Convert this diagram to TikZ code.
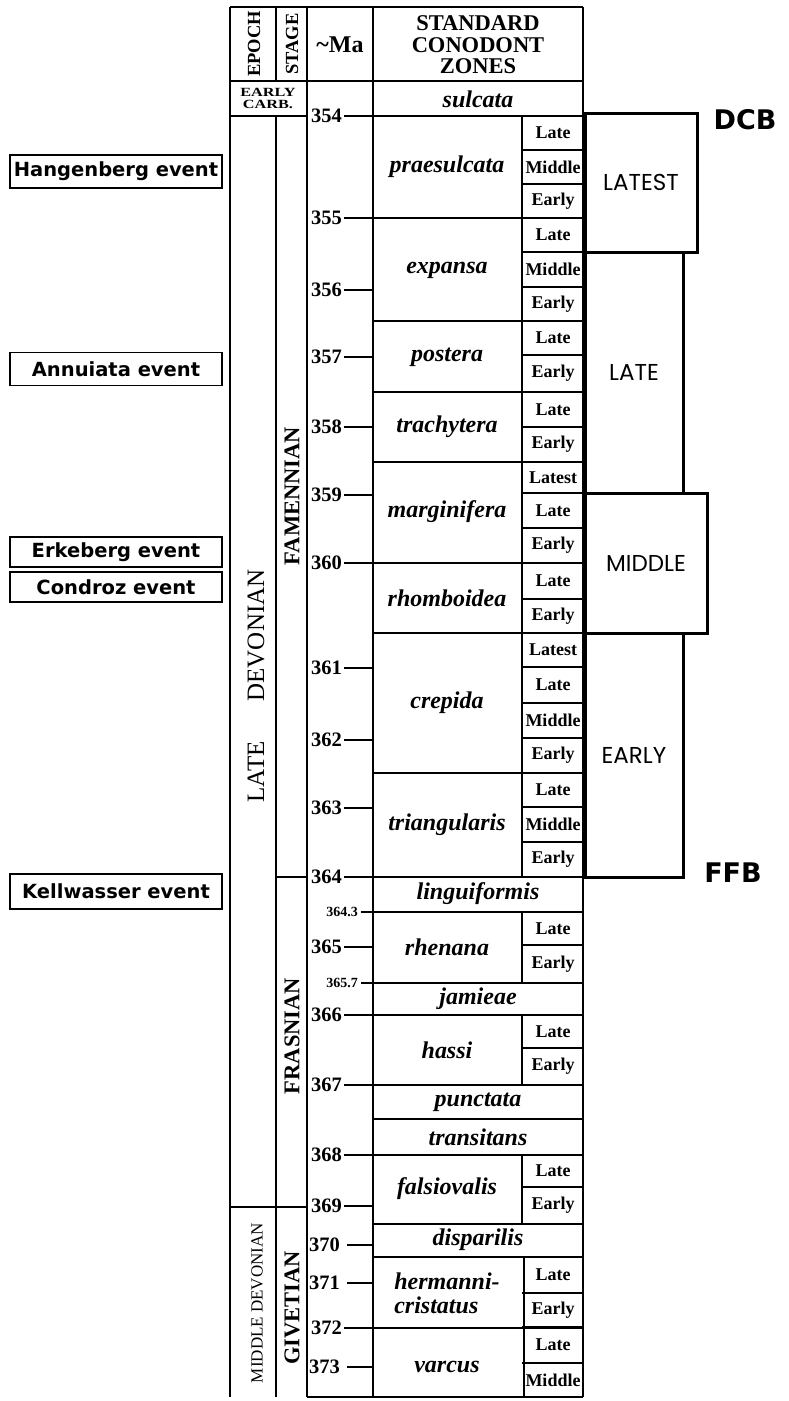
\documentclass[tikz,border=0pt]{standalone}
\usepackage{fontspec}
\setmainfont{Liberation Serif}
\newfontfamily\evfont{DejaVu Sans}
\newfontfamily\agefont{Poppins}
\begin{document}
\begin{tikzpicture}[x=1pt,y=-1pt,
  tl/.style={line width=1.7pt},
  bl/.style={line width=2.5pt},
  tk/.style={line width=1.9pt},
  malab/.style={anchor=east,inner sep=0pt,font=\fontsize{20.5}{20.5}\selectfont\bfseries},
  masmall/.style={anchor=east,inner sep=0pt,font=\fontsize{14}{14}\selectfont\bfseries},
  zone/.style={inner sep=0pt,font=\fontsize{24}{24}\selectfont\bfseries\itshape},
  sub/.style={inner sep=0pt,font=\fontsize{18}{18}\selectfont\bfseries},
  rot/.style={rotate=90,inner sep=0pt},
  evbox/.style={draw,line width=1.4pt,minimum width=212pt,inner sep=0pt,font=\evfont\bfseries\fontsize{19.5}{19.5}\selectfont},
  agebox/.style={draw,line width=3pt,inner sep=0pt,font=\agefont\fontsize{23}{23}\selectfont},
  bound/.style={inner sep=0pt,font=\evfont\bfseries\fontsize{27}{27}\selectfont}
]
\useasboundingbox[fill=white] (0,0) rectangle (788,1401);

% ---- header ----
\draw[tl] (230,7) -- (583,7);
\draw[tl] (230,81) -- (583,81);
\draw[tl] (276,7) -- (276,81);
\draw[tl] (230,116) -- (307,116);
\node[rot,font=\fontsize{18.5}{18.5}\selectfont\bfseries] (hepoch) at (254,44) {EPOCH};
\node[rot,font=\fontsize{18.5}{18.5}\selectfont\bfseries] (hstage) at (292,44) {STAGE};
\node[inner sep=0pt,font=\fontsize{24}{24}\selectfont\bfseries] (hma) at (340,45) {\textasciitilde Ma};
\node[inner sep=0pt,align=center,font=\fontsize{22.5}{21.5}\selectfont\bfseries] (hzones) at (478,45) {STANDARD\\CONODONT\\ZONES};
\node[inner sep=0pt,align=center,font=\fontsize{12.5}{12}\selectfont\bfseries] (ecarb) at (268,98) {\scalebox{1.3}[1]{EARLY}\\\scalebox{1.3}[1]{CARB.}};
\node[zone] (sulcata) at (478,99) {sulcata};

% ---- main verticals ----
\draw[tl] (230,7) -- (230,1397);
\draw[tl] (276,116) -- (276,1397);
\draw[tl] (307,7) -- (307,1397);
\draw[tl] (373,7) -- (373,1397);
\draw[tl] (583,7) -- (583,1397);
\draw[tl] (307,1397) -- (583,1397);

% stage / epoch boundaries
\draw[tl] (276,877) -- (307,877);
\draw[tl] (230,1207) -- (307,1207);

% subzone verticals
\draw[tl] (522,116) -- (522,877);
\draw[tl] (522,912) -- (522,983);
\draw[tl] (522,1015) -- (522,1085);
\draw[tl] (522,1155) -- (522,1224);
\draw[tl] (524,1257) -- (524,1397);

% ---- subzones ----
\foreach \t/\ya/\yb [count=\i] in {
  Late/116/150, Middle/150/184, Early/184/218,
  Late/218/252, Middle/252/287, Early/287/321,
  Late/321/355, Early/355/392,
  Late/392/427, Early/427/462,
  Latest/462/493, Late/493/528, Early/528/563,
  Late/563/599, Early/599/633,
  Latest/633/667, Late/667/703, Middle/703/738, Early/738/773,
  Late/773/807, Middle/807/842, Early/842/877,
  Late/912/945, Early/945/983,
  Late/1015/1048, Early/1048/1085,
  Late/1155/1187, Early/1187/1224,
  Late/1257/1293, Early/1293/1327,
  Late/1327/1363, Middle/1363/1397}{
  \draw[tl] (522,\yb) -- (583,\yb);
  \node[sub] (sz\i) at (553,{(\ya+\yb)/2}) {\t};
}

% ---- zone names ----
\foreach \n/\y [count=\i] in {praesulcata/167, expansa/270, postera/357, trachytera/427,
  marginifera/512, rhomboidea/598, crepida/703, triangularis/825,
  rhenana/947, hassi/1050, falsiovalis/1189}{
  \node[zone] (zn\i) at (447,\y) {\n};
}
\foreach \n/\y [count=\i] in {linguiformis/894, jamieae/999, punctata/1102, transitans/1137, disparilis/1240}{
  \node[zone] (zf\i) at (478,\y) {\n};
}
\node[zone,align=left] (hermanni) at (447,1293) {hermanni-\\cristatus};
\node[zone] (varcus) at (447,1367) {varcus};

% ---- zone boundaries without Ma tick ----
\foreach \y in {321,392,462,633,773,1119,1224,1257}{
  \draw[bl] (373,\y) -- (583,\y);
}

% ---- Ma labels and ticks ----
\foreach \m/\y in {354/116, 355/218, 360/563, 364/877, 366/1015, 367/1085, 368/1155, 372/1328}{
  \node[malab] (ma\m) at (342,\y) {\m};
  \draw[bl] (ma\m.east) ++(2,0) -- (583,\y);
}
\foreach \m/\y in {356/290, 357/357, 358/427, 359/495, 361/668, 362/740, 363/808, 365/947, 369/1206}{
  \node[malab] (ma\m) at (342,\y) {\m};
  \draw[tk] (ma\m.east) ++(2,0) -- (373,\y);
}
\foreach \m/\y in {370/1245, 371/1283, 373/1367}{
  \node[malab] (ma\m) at (340,\y) {\m};
  \draw[tk] (ma\m.east) ++(7,0) -- (373,\y);
}
\node[masmall] (ma3643) at (358,912) {364.3};
\draw[bl] (ma3643.east) ++(3,0) -- (583,912);
\node[masmall] (ma3657) at (358,983) {365.7};
\draw[bl] (ma3657.east) ++(3,0) -- (583,983);

% ---- rotated epoch / stage names ----
\node[rot,font=\fontsize{25}{25}\selectfont] (latedev) at (256,686) {LATE\hspace{40pt}DEVONIAN};
\node[rot,font=\fontsize{22.5}{22.5}\selectfont\bfseries] (famen) at (292,496) {FAMENNIAN};
\node[rot,font=\fontsize{22.5}{22.5}\selectfont\bfseries] (frasn) at (292,1036) {FRASNIAN};
\node[rot,font=\fontsize{17}{17}\selectfont] (middev) at (257,1303) {MIDDLE DEVONIAN};
\node[rot,font=\fontsize{22.5}{22.5}\selectfont\bfseries] (givet) at (292,1308) {GIVETIAN};

% ---- Famennian subdivisions ----
\node[agebox,minimum width=98pt,minimum height=241pt] (late) at (634,372.5) {LATE};
\node[agebox,minimum width=98pt,minimum height=244pt] (early) at (634,755) {EARLY};
\node[agebox,minimum width=112pt,minimum height=139pt] (latest) at (641,182.5) {LATEST};
\node[agebox,minimum width=122pt,minimum height=140pt] (middle) at (646,563) {MIDDLE};
\draw[line width=4pt] (latest.north west) -- (early.south west);
\node[bound] (dcb) at (745,120) {DCB};
\node[bound] (ffb) at (733,873) {FFB};

% ---- events ----
\node[evbox,minimum height=33pt] (hang) at (116,171.5) {Hangenberg event};
\node[evbox,minimum height=33pt] (annu) at (116,369) {Annuiata event};
\node[evbox,minimum height=30pt] (erke) at (116,552) {Erkeberg event};
\node[evbox,minimum height=30pt] (cond) at (116,587) {Condroz event};
\node[evbox,minimum height=35pt] (kell) at (116,891.5) {Kellwasser event};
\end{tikzpicture}
\end{document}
